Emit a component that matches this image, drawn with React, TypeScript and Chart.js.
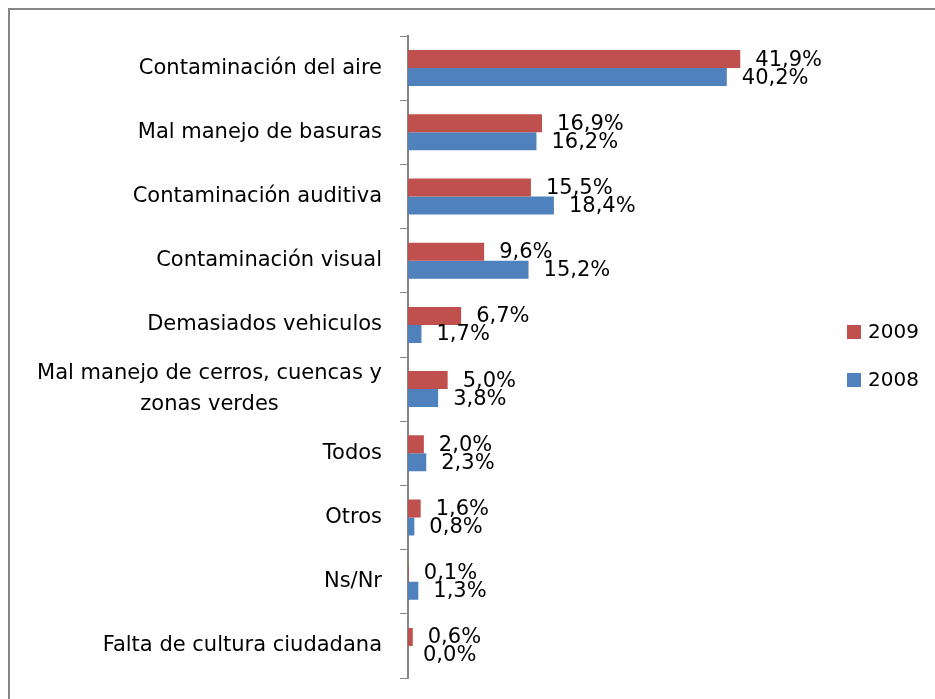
import React, { useEffect, useRef } from "react";
import { Chart, registerables } from "chart.js";

Chart.register(...registerables);

const categories: string[][] = [
  ["Contaminación del aire"],
  ["Mal manejo de basuras"],
  ["Contaminación auditiva"],
  ["Contaminación visual"],
  ["Demasiados vehiculos"],
  ["Mal manejo de cerros, cuencas y", "zonas verdes"],
  ["Todos"],
  ["Otros"],
  ["Ns/Nr"],
  ["Falta de cultura ciudadana"],
];
const values2009 = [41.9, 16.9, 15.5, 9.6, 6.7, 5.0, 2.0, 1.6, 0.1, 0.6];
const values2008 = [40.2, 16.2, 18.4, 15.2, 1.7, 3.8, 2.3, 0.8, 1.3, 0.0];
const seriesNames = ["2009", "2008"];
const seriesColors = ["#C0504D", "#4F81BD"];

const FONT = '"DejaVu Sans", sans-serif';
const fmt = (v: number) => v.toFixed(1).replace(".", ",") + "%";

const yLabelPlugin = {
  id: "yLabels",
  afterDraw(chart: any) {
    const ctx = chart.ctx;
    const y = chart.scales.y;
    ctx.save();
    ctx.font = `21px ${FONT}`;
    ctx.fillStyle = "#000";
    ctx.textBaseline = "middle";
    ctx.textAlign = "center";
    const rightX = y.right - 26;
    const lh = 31;
    categories.forEach((lines, i) => {
      const cy = y.getPixelForValue(i);
      const maxW = Math.max(...lines.map((l) => ctx.measureText(l).width));
      const cx = rightX - maxW / 2;
      lines.forEach((l, j) => {
        ctx.fillText(l, cx, cy + (j - (lines.length - 1) / 2) * lh);
      });
    });
    ctx.restore();
  },
};

const dataLabelPlugin = {
  id: "dataLabels",
  afterDatasetsDraw(chart: any) {
    const ctx = chart.ctx;
    ctx.save();
    ctx.font = `21px ${FONT}`;
    ctx.fillStyle = "#000";
    ctx.textBaseline = "middle";
    ctx.textAlign = "left";
    chart.data.datasets.forEach((ds: any, di: number) => {
      const meta = chart.getDatasetMeta(di);
      meta.data.forEach((el: any, i: number) => {
        ctx.fillText(fmt(ds.data[i]), el.x + 15, el.y + 1);
      });
    });
    ctx.restore();
  },
};

const legendPlugin = {
  id: "customLegend",
  afterDraw(chart: any) {
    const ctx = chart.ctx;
    ctx.save();
    ctx.font = `20px ${FONT}`;
    ctx.textBaseline = "middle";
    ctx.textAlign = "left";
    const boxX = 837;
    const tops = [315, 363];
    seriesNames.forEach((name, i) => {
      ctx.fillStyle = seriesColors[i];
      ctx.fillRect(boxX, tops[i], 14, 14);
      ctx.fillStyle = "#000";
      ctx.fillText(name, boxX + 21, tops[i] + 8);
    });
    ctx.restore();
  },
};

export default function App() {
  const ref = useRef<HTMLCanvasElement | null>(null);
  useEffect(() => {
    if (!ref.current) return;
    Chart.defaults.font.family = FONT;
    const chart = new Chart(ref.current, {
      type: "bar",
      data: {
        labels: categories.map((c) => c.join(" ")),
        datasets: [
          {
            label: seriesNames[0],
            data: values2009,
            backgroundColor: seriesColors[0],
            categoryPercentage: 0.56,
            barPercentage: 1,
          },
          {
            label: seriesNames[1],
            data: values2008,
            backgroundColor: seriesColors[1],
            categoryPercentage: 0.56,
            barPercentage: 1,
          },
        ],
      },
      options: {
        indexAxis: "y",
        animation: false,
        responsive: false,
        layout: { padding: { top: 26, bottom: 21, left: 0, right: 130.5 } },
        plugins: {
          legend: { display: false },
          tooltip: { enabled: false },
        },
        scales: {
          x: { display: false, min: 0, max: 50 },
          y: {
            ticks: { display: false },
            grid: {
              drawOnChartArea: false,
              drawTicks: true,
              tickLength: 8,
              color: "#868686",
              lineWidth: 1,
              offset: true,
            },
            border: { display: true, color: "#868686", width: 2 },
            afterFit(scale: any) {
              scale.width = 398;
            },
          },
        },
      },
      plugins: [dataLabelPlugin, yLabelPlugin, legendPlugin],
    } as any);
    return () => chart.destroy();
  }, []);

  return (
    <div
      style={{
        position: "fixed",
        left: 8,
        top: 8,
        width: 925,
        height: 689,
        borderLeft: "2px solid #868686",
        borderTop: "2px solid #868686",
        overflow: "hidden",
        background: "#fff",
      }}
    >
      <canvas ref={ref} width={925} height={689} style={{ display: "block", width: 925, height: 689 }} />
    </div>
  );
}
